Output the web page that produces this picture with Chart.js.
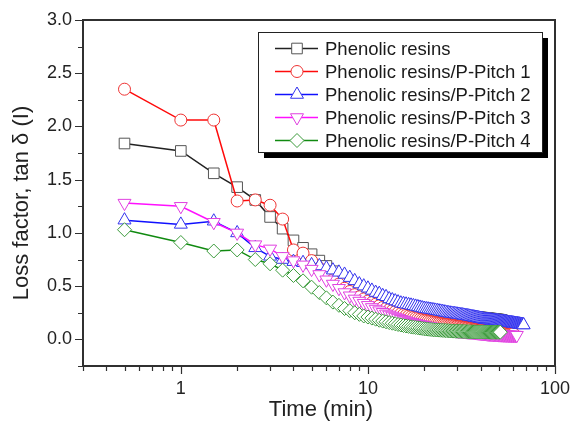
<!DOCTYPE html>
<html>
<head>
<meta charset="utf-8">
<script src="https://cdn.jsdelivr.net/npm/chart.js@4.4.1/dist/chart.umd.min.js"></script>
<style>
  html, body { margin: 0; padding: 0; background: #fff; }
  #wrap { width: 572px; height: 433px; }
</style>
</head>
<body>
<div id="wrap"><canvas id="chart"></canvas></div>
<script>
// sampling times (min), every 0.5 min
const times = [
  0.5,1,1.5,2,2.5,3,3.5,4,4.5,5,5.5,6,6.5,7,7.5,8,8.5,9,9.5,10,
  10.5,11,11.5,12,12.5,13,13.5,14,14.5,15,15.5,16,16.5,17,17.5,18,18.5,19,19.5,20,
  20.5,21,21.5,22,22.5,23,23.5,24,24.5,25,25.5,26,26.5,27,27.5,28,28.5,29,29.5,30,
  30.5,31,31.5,32,32.5,33,33.5,34,34.5,35,35.5,36,36.5,37,37.5,38,38.5,39,39.5,40,
  40.5,41,41.5,42,42.5,43,43.5,44,44.5,45,45.5,46,46.5,47,47.5,48,48.5,49,49.5,50,
  50.5,51,51.5,52,52.5,53,53.5,54,54.5,55,55.5,56,56.5,57,57.5,58,58.5,59,59.5,60,
  60.5,61,61.5,62,62.5,63,63.5,64,64.5,65,65.5,66,66.5,67,67.5,68
];

const seriesNames = [
  'Phenolic resins',
  'Phenolic resins/P-Pitch 1',
  'Phenolic resins/P-Pitch 2',
  'Phenolic resins/P-Pitch 3',
  'Phenolic resins/P-Pitch 4'
];

const phenolic = [
  1.84,1.77,1.56,1.43,1.31,1.15,1.04,0.93,0.86,0.80,0.74,0.69,0.64,0.60,0.56,0.52,0.49,0.46,0.44,0.42,
  0.40,0.39,0.37,0.36,0.35,0.34,0.33,0.32,0.315,0.31,0.305,0.30,0.295,0.29,0.285,0.28,0.277,0.274,0.271,0.268,
  0.265,0.262,0.26,0.258,0.256,0.254,0.252,0.25,0.248,0.246,0.244,0.242,0.24,0.238,0.236,0.234,0.232,0.23,0.228,0.226,
  0.225,0.224,0.223,0.222,0.221,0.22,0.219,0.218,0.217,0.216,0.215,0.214,0.213,0.212,0.211,0.21,0.209,0.208,0.207,0.206,
  0.205,0.204,0.203,0.202,0.201,0.2,0.199,0.198,0.197,0.196,0.195,0.194,0.193,0.192,0.191,0.19,0.189,0.188,0.187,0.186,
  0.185,0.184,0.183,0.182
];

const pitch1 = [
  2.35,2.06,2.06,1.30,1.31,1.26,1.13,0.84,0.81,0.74,0.67,0.61,0.56,0.52,0.48,0.45,0.42,0.40,0.38,0.36,
  0.345,0.33,0.315,0.30,0.29,0.28,0.27,0.26,0.25,0.24,0.232,0.225,0.218,0.212,0.206,0.2,0.195,0.19,0.185,0.18,
  0.176,0.172,0.168,0.164,0.16,0.157,0.154,0.151,0.148,0.145,0.142,0.14,0.138,0.136,0.134,0.132,0.13,0.128,0.126,0.124,
  0.122,0.12,0.118,0.116,0.114,0.112,0.11,0.108,0.106,0.104,0.102,0.1,0.099,0.098,0.097,0.096,0.095,0.094,0.093,0.092,
  0.091,0.09,0.089,0.088,0.087,0.086,0.085,0.084,0.083,0.082,0.081,0.08,0.079,0.078,0.077,0.076,0.075,0.074,0.073,0.072,
  0.071,0.07,0.069,0.068,0.067,0.066,0.065,0.064,0.063,0.062,0.061,0.06,0.059,0.058,0.057,0.056,0.055,0.054,0.053,0.052
];

const pitch2 = [
  1.12,1.08,1.11,1.00,0.86,0.78,0.75,0.73,0.72,0.70,0.69,0.67,0.65,0.63,0.61,0.58,0.55,0.52,0.50,0.48,
  0.46,0.44,0.43,0.41,0.40,0.38,0.37,0.36,0.35,0.34,0.335,0.33,0.325,0.32,0.315,0.31,0.305,0.30,0.295,0.29,
  0.287,0.284,0.281,0.278,0.275,0.272,0.269,0.266,0.263,0.26,0.257,0.254,0.251,0.248,0.246,0.244,0.242,0.24,0.238,0.236,
  0.234,0.232,0.23,0.228,0.226,0.224,0.222,0.22,0.218,0.216,0.214,0.212,0.21,0.208,0.206,0.204,0.202,0.20,0.198,0.196,
  0.194,0.192,0.19,0.188,0.186,0.185,0.184,0.183,0.182,0.181,0.18,0.179,0.178,0.177,0.176,0.175,0.174,0.173,0.172,0.171,
  0.17,0.169,0.168,0.167,0.166,0.165,0.164,0.163,0.162,0.161,0.16,0.159,0.158,0.157,0.156,0.155,0.154,0.153,0.152,0.151,
  0.15,0.149,0.148,0.147,0.146,0.145,0.144,0.143,0.142,0.141,0.14,0.139,0.138,0.137,0.136,0.135
];

const pitch3 = [
  1.28,1.25,1.10,1.00,0.89,0.85,0.78,0.74,0.70,0.66,0.61,0.56,0.52,0.48,0.44,0.41,0.38,0.36,0.34,0.32,
  0.30,0.285,0.27,0.255,0.24,0.23,0.22,0.21,0.2,0.19,0.182,0.175,0.168,0.162,0.156,0.15,0.145,0.14,0.136,0.132,
  0.128,0.124,0.12,0.117,0.114,0.111,0.108,0.105,0.102,0.1,0.098,0.096,0.094,0.092,0.09,0.088,0.086,0.084,0.082,0.08,
  0.079,0.078,0.077,0.076,0.075,0.074,0.073,0.072,0.071,0.07,0.069,0.068,0.067,0.066,0.065,0.064,0.063,0.062,0.061,0.06,
  0.059,0.058,0.057,0.056,0.055,0.054,0.053,0.052,0.051,0.05,0.05,0.049,0.049,0.048,0.048,0.047,0.047,0.046,0.046,0.045,
  0.045,0.045,0.044,0.044,0.044,0.043,0.043,0.043,0.042,0.042,0.042,0.042,0.041,0.041,0.041,0.041,0.04,0.04,0.04,0.04,
  0.04,0.04,0.039,0.039,0.039
];

const pitch4 = [
  1.03,0.91,0.83,0.84,0.75,0.71,0.65,0.60,0.55,0.49,0.44,0.39,0.35,0.32,0.29,0.27,0.25,0.235,0.22,0.21,
  0.2,0.19,0.18,0.172,0.165,0.158,0.152,0.146,0.14,0.135,0.13,0.126,0.122,0.118,0.115,0.112,0.109,0.106,0.103,0.1,
  0.098,0.096,0.094,0.092,0.09,0.089,0.088,0.087,0.086,0.085,0.084,0.083,0.082,0.081,0.08,0.079,0.078,0.078,0.077,0.077,
  0.076,0.076,0.075,0.075,0.074,0.074,0.073,0.073,0.072,0.072,0.072,0.071,0.071,0.071,0.07,0.07,0.07,0.07,0.07,0.07,
  0.07,0.07,0.069,0.069,0.069,0.069,0.069,0.069,0.068,0.068,0.068,0.068,0.068,0.068,0.068,0.068,0.068,0.068,0.068,0.068,
  0.068,0.068
];

const xTickValues = [0.3,0.4,0.5,0.6,0.7,0.8,0.9,1,2,3,4,5,6,7,8,9,10,20,30,40,50,60,70,80,90,100];
const xTickLabels = [1, 10, 100];
const yTickLabels = [0, 0.5, 1.0, 1.5, 2.0, 2.5, 3.0];

function toPoints(vals) {
  return vals.map((v, i) => ({ x: times[i], y: v }));
}

const styles = [
  { color: '#222222', pt: '#555555', pointStyle: 'rect', radius: 7.5, rotation: 0 },
  { color: '#ff0a0a', pt: '#ee3333', pointStyle: 'circle', radius: 6, rotation: 0 },
  { color: '#1010ff', pt: '#3333ee', pointStyle: 'triangle', radius: 7.5, rotation: 0 },
  { color: '#ff10ff', pt: '#e040e0', pointStyle: 'triangle', radius: 7.5, rotation: 180 },
  { color: '#108a10', pt: '#3a9a3a', pointStyle: 'rectRot', radius: 7, rotation: 0 }
];
const allValues = [phenolic, pitch1, pitch2, pitch3, pitch4];

const datasets = allValues.map((vals, k) => ({
  label: seriesNames[k],
  data: toPoints(vals),
  borderColor: styles[k].color,
  borderWidth: 1.5,
  pointStyle: styles[k].pointStyle,
  pointRotation: styles[k].rotation,
  pointRadius: styles[k].radius,
  pointBorderColor: styles[k].pt,
  pointBackgroundColor: '#ffffff',
  pointBorderWidth: 1,
  order: 5 - k,
  tension: 0
}));

const FONT = '"Liberation Sans", Arial, sans-serif';

const framePlugin = {
  id: 'frame',
  afterDraw(chart) {
    const ctx = chart.ctx;
    const xs = chart.scales.x, ys = chart.scales.y;
    const L = Math.round(xs.left), R = Math.round(xs.right);
    const T = Math.round(ys.top), B = Math.round(ys.bottom);
    ctx.save();
    // frame around the plot area, drawn as one closed path
    ctx.strokeStyle = '#303030';
    ctx.lineWidth = 2;
    ctx.beginPath();
    ctx.rect(L, T, R - L, B - T);
    ctx.stroke();
    // tick marks (outside the frame)
    ctx.lineWidth = 1.2;
    ctx.beginPath();
    xTickValues.forEach(v => {
      const px = Math.round(xs.getPixelForValue(v)) + 0.5;
      const len = xTickLabels.includes(v) ? 8 : 5;
      ctx.moveTo(px, B);
      ctx.lineTo(px, B + len);
    });
    ys.ticks.forEach(t => {
      const py = Math.round(ys.getPixelForValue(t.value)) + 0.5;
      const len = (Math.abs(t.value * 2 - Math.round(t.value * 2)) < 1e-6) ? 8 : 5;
      ctx.moveTo(L, py);
      ctx.lineTo(L - len, py);
    });
    ctx.stroke();

    // axis titles
    ctx.fillStyle = '#222';
    ctx.font = '22px ' + FONT;
    ctx.textAlign = 'center';
    ctx.textBaseline = 'middle';
    ctx.fillText('Time (min)', 321, 410);
    ctx.translate(22, 203);
    ctx.rotate(-Math.PI / 2);
    ctx.fillText('Loss factor, tan \u03b4 (I)', 0, 0);
    ctx.restore();

    // legend box with shadow
    ctx.save();
    const bx = 258, by = 32, bw = 284, bh = 120;
    ctx.fillStyle = '#000';
    ctx.fillRect(bx + 6, by + 6, bw, bh);
    ctx.fillStyle = '#fff';
    ctx.fillRect(bx, by, bw, bh);
    ctx.strokeStyle = '#222';
    ctx.lineWidth = 1;
    ctx.strokeRect(bx + 0.5, by + 0.5, bw, bh);
    ctx.font = '18.5px ' + FONT;
    ctx.textAlign = 'left';
    ctx.textBaseline = 'middle';
    chart.data.datasets.forEach((ds, k) => {
      const y = 48.5 + k * 23;
      ctx.strokeStyle = ds.borderColor;
      ctx.lineWidth = 1.5;
      ctx.beginPath();
      ctx.moveTo(275, y);
      ctx.lineTo(318, y);
      ctx.stroke();
      ctx.fillStyle = '#fff';
      ctx.strokeStyle = ds.pointBorderColor;
      ctx.lineWidth = 1;
      Chart.helpers.drawPoint(ctx, {
        pointStyle: ds.pointStyle,
        rotation: ds.pointRotation,
        radius: ds.pointRadius,
        borderWidth: 1
      }, 297, y);
      ctx.fillStyle = '#1a1a1a';
      ctx.fillText(ds.label, 325, y + 1);
    });
    ctx.restore();
  }
};

new Chart(document.getElementById('chart'), {
  type: 'line',
  data: { datasets: datasets },
  options: {
    responsive: true,
    maintainAspectRatio: false,
    animation: false,
    events: [],
    layout: { padding: { left: 0, top: 20, right: 17, bottom: 0 } },
    plugins: { legend: { display: false }, tooltip: { enabled: false } },
    scales: {
      x: {
        type: 'logarithmic',
        min: 0.3,
        max: 100,
        afterBuildTicks: (scale) => { scale.ticks = xTickValues.map(v => ({ value: v })); },
        afterFit: (scale) => { scale.height = 67; scale.paddingLeft = 0; scale.paddingRight = 0; },
        grid: { display: false, drawTicks: false },
        border: { display: true, color: '#303030', width: 2 },
        ticks: {
          autoSkip: false,
          maxRotation: 0,
          padding: 12,
          color: '#222',
          font: { family: FONT, size: 18 },
          callback: (v) => xTickLabels.includes(v) ? String(v) : ''
        }
      },
      y: {
        type: 'linear',
        min: -0.25,
        max: 3.0,
        afterFit: (scale) => { scale.width = 83; scale.paddingTop = 0; scale.paddingBottom = 0; },
        grid: { display: false, drawTicks: false },
        border: { display: true, color: '#303030', width: 2 },
        ticks: {
          stepSize: 0.25,
          padding: 11,
          color: '#222',
          font: { family: FONT, size: 18 },
          callback: (v) => yTickLabels.some(t => Math.abs(t - v) < 1e-6) ? v.toFixed(1) : ''
        }
      }
    }
  },
  plugins: [framePlugin]
});
</script>
</body>
</html>
